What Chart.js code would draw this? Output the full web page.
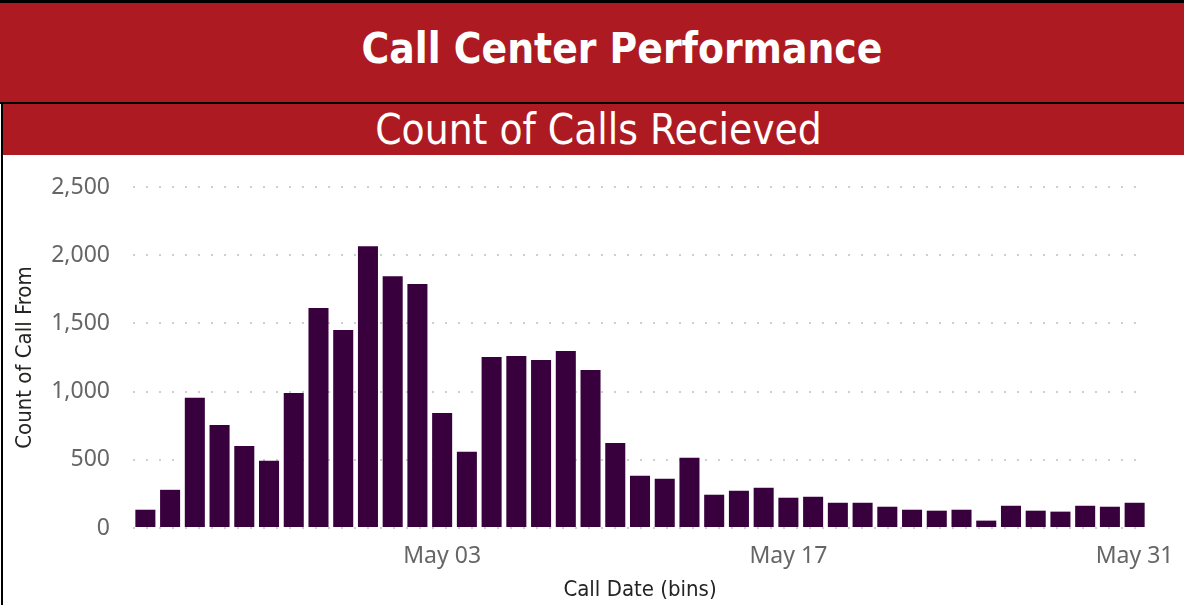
<!DOCTYPE html>
<html>
<head>
<meta charset="utf-8">
<script src="https://cdn.jsdelivr.net/npm/chart.js@4"></script>
<style>
  body { margin: 0; background: #fff; }
  #page { position: relative; width: 1184px; height: 605px; overflow: hidden; background: #fff; }
  #topline { position: absolute; left: 0; top: 0; width: 1184px; height: 3px; background: #000; }
  #header { position: absolute; left: 0; top: 3px; width: 1184px; height: 99px; background: #ae1a21;
    color: #fff; font-family: 'DejaVu Sans Condensed', 'DejaVu Sans', sans-serif; font-weight: bold;
    font-size: 42px; line-height: 92px; text-align: center; padding-left: 60px; box-sizing: border-box; }
  #midline { position: absolute; left: 0; top: 102px; width: 1184px; height: 2px; background: #000; }
  #leftline { position: absolute; left: 1px; top: 102px; width: 2px; height: 503px; background: #000; }
  #subheader { position: absolute; left: 3px; top: 104px; width: 1181px; height: 51px; background: #ae1a21;
    color: #fff; font-family: 'DejaVu Sans Condensed', 'DejaVu Sans', sans-serif;
    font-size: 42px; line-height: 52px; text-align: center; padding-left: 10px; box-sizing: border-box; }
  #wrap { position: absolute; left: 4px; top: 156px; width: 1180px; height: 449px; }
</style>
</head>
<body>
<div id="page">
  <div id="topline"></div>
  <div id="header">Call Center Performance</div>
  <div id="midline"></div>
  <div id="leftline"></div>
  <div id="subheader">Count of Calls Recieved</div>
  <div id="wrap"><canvas id="callsChart"></canvas></div>
</div>
<script>
// one bin per day, Apr 21 - May 31
const callDates = [
  'Apr 21', 'Apr 22', 'Apr 23', 'Apr 24', 'Apr 25', 'Apr 26', 'Apr 27', 'Apr 28', 'Apr 29', 'Apr 30',
  'May 01', 'May 02', 'May 03', 'May 04', 'May 05', 'May 06', 'May 07', 'May 08', 'May 09', 'May 10',
  'May 11', 'May 12', 'May 13', 'May 14', 'May 15', 'May 16', 'May 17', 'May 18', 'May 19', 'May 20',
  'May 21', 'May 22', 'May 23', 'May 24', 'May 25', 'May 26', 'May 27', 'May 28', 'May 29', 'May 30',
  'May 31'
];
const callCounts = [
  134, 280, 954, 756, 602, 493, 990, 1612, 1451, 2066,
  1846, 1788, 844, 559, 1254, 1261, 1232, 1298, 1159, 624,
  383, 361, 515, 244, 273, 295, 222, 229, 185, 185,
  156, 134, 127, 134, 54, 163, 127, 120, 163, 156,
  185
];
const shownTicks = ['May 03', 'May 17', 'May 31'];
const yTicks = [0, 500, 1000, 1500, 2000, 2500];

const ctx = document.getElementById('callsChart').getContext('2d');

new Chart(ctx, {
    type: 'bar',
    data: {
        labels: callDates,
        datasets: [
            {
                label: 'Count of Call From',
                data: callCounts,
                backgroundColor: '#38003c',
                borderWidth: 0,
                barPercentage: 0.81,
                categoryPercentage: 1.0
            }
        ]
    },
    options: {
        responsive: true,
        maintainAspectRatio: false,
        animation: false,
        layout: {
            padding: { top: 31, right: 37, bottom: 0, left: 0 }
        },
        plugins: {
            legend: { display: false },
            tooltip: { enabled: false },
            title: { display: false }
        },
        scales: {
            y: {
                min: 0,
                max: 2500,
                afterFit(scale) { scale.width = 129; },
                afterBuildTicks(scale) { scale.ticks = yTicks.map(v => ({ value: v })); },
                border: { display: false, dash: [2, 11] },
                grid: {
                    color: '#cfcfcf',
                    lineWidth: 2,
                    drawTicks: true,
                    tickLength: 15,
                    tickColor: 'rgba(0,0,0,0)'
                },
                title: {
                    display: true,
                    text: 'Count of Call From',
                    color: '#252423',
                    padding: { top: 8, bottom: 0 },
                    font: { family: 'DejaVu Sans Condensed', size: 22 }
                },
                ticks: {
                    padding: 8,
                    color: '#666666',
                    font: { family: 'Noto Sans', size: 23 },
                    callback: (v) => v.toLocaleString('en-US')
                }
            },
            x: {
                afterFit(scale) { scale.height = 77; },
                border: { display: false },
                grid: { display: false, drawTicks: true, tickLength: 10 },
                title: {
                    display: true,
                    text: 'Call Date (bins)',
                    color: '#252423',
                    padding: { top: 0, bottom: 2 },
                    font: { family: 'DejaVu Sans Condensed', size: 22 }
                },
                ticks: {
                    autoSkip: false,
                    maxRotation: 0,
                    minRotation: 0,
                    padding: 5,
                    color: '#666666',
                    font: { family: 'Noto Sans', size: 23 },
                    callback: function (val) {
                        const lbl = this.getLabelForValue(val);
                        return shownTicks.includes(lbl) ? lbl : '';
                    }
                }
            }
        }
    }
});
</script>
</body>
</html>
